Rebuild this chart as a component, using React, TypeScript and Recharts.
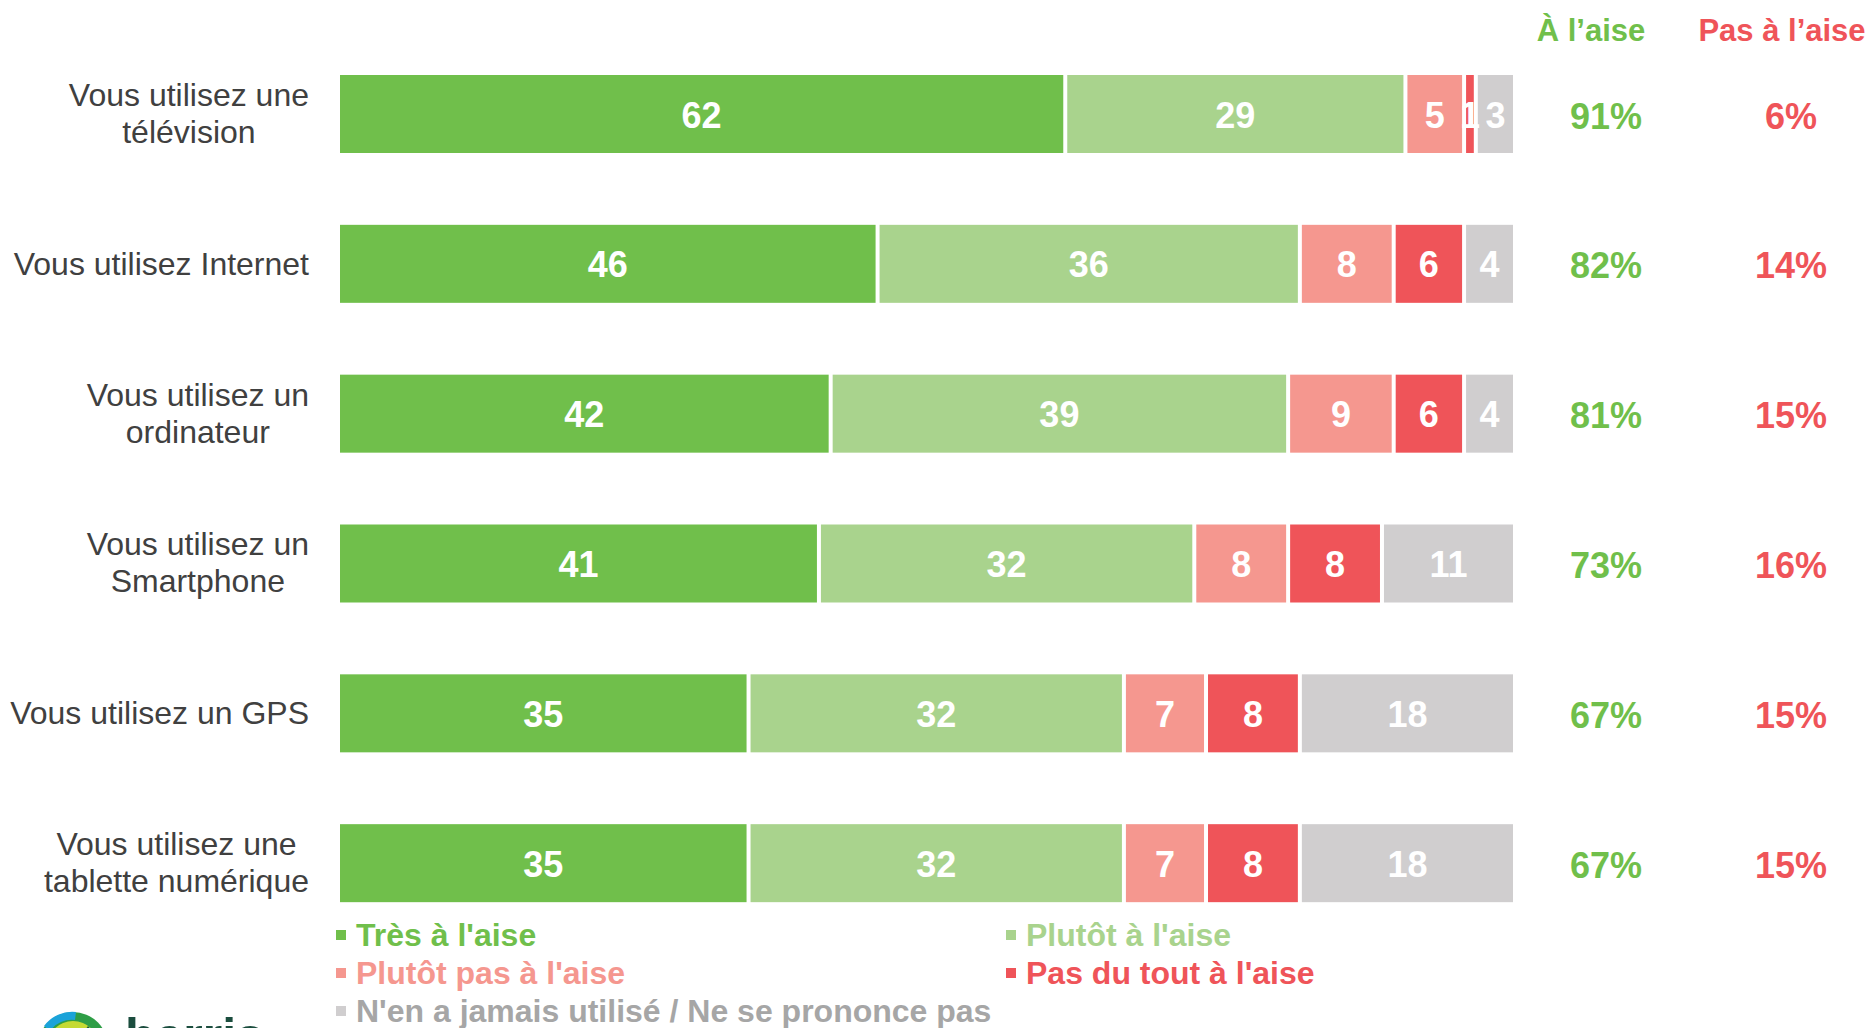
import React from 'react';
import { BarChart, Bar, XAxis, YAxis, LabelList } from 'recharts';

const categories = [
  'Vous utilisez une\ntélévision',
  'Vous utilisez Internet',
  'Vous utilisez un\nordinateur',
  'Vous utilisez un\nSmartphone',
  'Vous utilisez un GPS',
  'Vous utilisez une\ntablette numérique',
];
const tresALaise = [62, 46, 42, 41, 35, 35];
const plutotALaise = [29, 36, 39, 32, 32, 32];
const plutotPas = [5, 8, 9, 8, 7, 7];
const pasDuTout = [1, 6, 6, 8, 8, 8];
const jamais = [3, 4, 4, 11, 18, 18];
const aLaise = [91, 82, 81, 73, 67, 67];
const pasALaise = [6, 14, 15, 16, 15, 15];

const seriesKeys = ['tres', 'plutot', 'plutotPas', 'pasDuTout', 'jamais'];
const seriesNames = [
  "Très à l'aise",
  "Plutôt à l'aise",
  "Plutôt pas à l'aise",
  "Pas du tout à l'aise",
  "N'en a jamais utilisé / Ne se prononce pas",
];
const seriesColors = ['#70BF4B', '#A9D38D', '#F5978F', '#EF5459', '#D0CECF'];
const legendTextColors = ['#70BF4B', '#A9D38D', '#F5978F', '#EF5459', '#A6A6A6'];

const headerALaise = "À l’aise";
const headerPasALaise = "Pas à l’aise";

const data = categories.map((name, i) => ({
  name,
  tres: tresALaise[i],
  plutot: plutotALaise[i],
  plutotPas: plutotPas[i],
  pasDuTout: pasDuTout[i],
  jamais: jamais[i],
  aLaise: aLaise[i],
  pasALaise: pasALaise[i],
}));

const FONT = "'Liberation Sans', Arial, Helvetica, sans-serif";
const GAP = 4;
const LABEL_RIGHT = 309;
const CAT_FONT_SIZE = 32;

let measureCtx: CanvasRenderingContext2D | null = null;
function textWidth(t: string, size: number, weight = 'normal') {
  if (typeof document === 'undefined') return t.length * size * 0.5;
  if (!measureCtx) {
    const c = document.createElement('canvas');
    measureCtx = c.getContext('2d');
  }
  if (!measureCtx) return t.length * size * 0.5;
  measureCtx.font = `${weight} ${size}px 'Liberation Sans', Arial, sans-serif`;
  return measureCtx.measureText(t).width;
}

const CategoryTick = (props: any) => {
  const { y, payload } = props;
  const lines: string[] = String(payload.value).split('\n');
  if (lines.length === 1) {
    return (
      <text x={LABEL_RIGHT} y={y + 11} textAnchor="end" fontFamily={FONT} fontSize={CAT_FONT_SIZE} fill="#404040">
        {lines[0]}
      </text>
    );
  }
  const maxW = Math.max(...lines.map((l) => textWidth(l, CAT_FONT_SIZE)));
  const cx = LABEL_RIGHT - maxW / 2;
  return (
    <g>
      {lines.map((l, i) => (
        <text key={i} x={cx} y={y - 8 + i * 37} textAnchor="middle" fontFamily={FONT} fontSize={CAT_FONT_SIZE} fill="#404040">
          {l}
        </text>
      ))}
    </g>
  );
};

const makeShape = (isLast: boolean) => (props: any) => {
  const { x, y, width, height, fill } = props;
  const w = isLast ? width : Math.max(0, width - GAP);
  return <rect x={x} y={y} width={w} height={height} fill={fill} />;
};

const makeValueLabel = (isLast: boolean) => (props: any) => {
  const { x, y, width, height, value } = props;
  const w = isLast ? width : width - GAP;
  return (
    <text
      x={Number(x) + w / 2}
      y={Number(y) + Number(height) / 2 + 1}
      textAnchor="middle"
      dominantBaseline="central"
      fontFamily={FONT}
      fontSize={36}
      fontWeight="bold"
      fill="#FFFFFF"
    >
      {value}
    </text>
  );
};

const makePctLabel = (cx: number, color: string) => (props: any) => {
  const { y, height, value } = props;
  return (
    <text
      x={cx}
      y={Number(y) + Number(height) / 2 + 2}
      textAnchor="middle"
      dominantBaseline="central"
      fontFamily={FONT}
      fontSize={36}
      fontWeight="bold"
      fill={color}
    >
      {value}%
    </text>
  );
};

const legendPos = [
  { x: 336, y: 946 },
  { x: 1006, y: 946 },
  { x: 336, y: 984 },
  { x: 1006, y: 984 },
  { x: 336, y: 1022 },
];

export default function App() {
  return (
    <div style={{ position: 'absolute', left: 0, top: 0, width: 1872, height: 1028, overflow: 'hidden', background: '#fff' }}>
      <BarChart
        width={1872}
        height={1028}
        data={data}
        layout="vertical"
        margin={{ top: 39, right: 359, bottom: 90, left: 0 }}
      >
        <XAxis type="number" domain={[0, 100]} hide />
        <YAxis
          type="category"
          dataKey="name"
          width={340}
          axisLine={false}
          tickLine={false}
          tick={<CategoryTick />}
          interval={0}
        />
        {seriesKeys.map((k, i) => {
          const isLast = i === seriesKeys.length - 1;
          return (
            <Bar
              key={k}
              dataKey={k}
              stackId="a"
              fill={seriesColors[i]}
              barSize={78}
              isAnimationActive={false}
              shape={makeShape(isLast)}
            >
              <LabelList dataKey={k} content={makeValueLabel(isLast)} />
              {isLast && <LabelList dataKey="aLaise" content={makePctLabel(1606, '#70BF4B')} />}
              {isLast && <LabelList dataKey="pasALaise" content={makePctLabel(1791, '#EF5459')} />}
            </Bar>
          );
        })}
      </BarChart>
      <svg
        width={1872}
        height={1028}
        style={{ position: 'absolute', left: 0, top: 0, pointerEvents: 'none' }}
      >
        <text x={1591} y={41} textAnchor="middle" fontFamily={FONT} fontSize={31} fontWeight="bold" fill="#70BF4B">
          {headerALaise}
        </text>
        <text x={1782} y={41} textAnchor="middle" fontFamily={FONT} fontSize={31} fontWeight="bold" fill="#EF5459">
          {headerPasALaise}
        </text>
        {seriesNames.map((n, i) => (
          <g key={n}>
            <rect x={legendPos[i].x} y={legendPos[i].y - 16} width={10} height={10} fill={seriesColors[i]} />
            <text x={legendPos[i].x + 20} y={legendPos[i].y} fontFamily={FONT} fontSize={32} fontWeight="bold" fill={legendTextColors[i]}>
              {n}
            </text>
          </g>
        ))}
        <g>
          <circle cx={73} cy={1047} r={35} fill="#2E9E46" />
          <path d="M 44 1026 A 35 35 0 0 1 76 1012 L 75 1020 A 27 27 0 0 0 50 1031 Z" fill="#1BA3D9" />
          <circle cx={73} cy={1047} r={26} fill="#C5DA33" />
          <path d="M 73 1047 L 88 1026 L 100 1040 Z" fill="#1B5E3B" />
          <text x={125} y={1053} fontFamily={FONT} fontSize={50} fontWeight="bold" fill="#1B4D3E">
            harris
          </text>
        </g>
      </svg>
    </div>
  );
}
